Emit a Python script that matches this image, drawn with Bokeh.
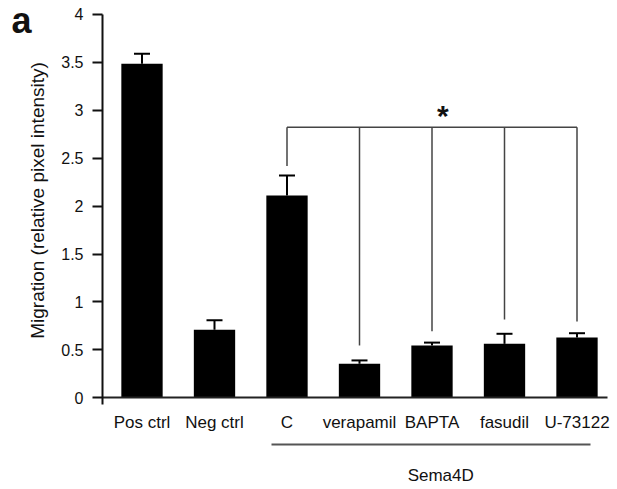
import math
from bokeh.plotting import figure
from bokeh.models import (ColumnDataSource, LinearAxis, FixedTicker, Range1d,
                          Whisker, TeeHead)
from bokeh.core.properties import value
from bokeh.embed import file_html
from bokeh.resources import INLINE

# ---- data ----
categories = ["Pos ctrl", "Neg ctrl", "C", "verapamil", "BAPTA", "fasudil", "U-73122"]
means = [3.485, 0.71, 2.11, 0.355, 0.546, 0.563, 0.629]
errors = [0.105, 0.10, 0.21, 0.035, 0.03, 0.105, 0.045]

y_ticks = [0, 0.5, 1, 1.5, 2, 2.5, 3, 3.5, 4]
y_tick_labels = ["0", "0.5", "1", "1.5", "2", "2.5", "3", "3.5", "4"]
y_label = "Migration (relative pixel intensity)"

# significance bracket: C vs each inhibitor
bracket_idx = [2, 3, 4, 5, 6]
bracket_level = 2.824
bracket_bottoms = [2.42, 0.546, 0.695, 0.817, 0.796]
star_text = "*"
group_label = "Sema4D"
group_span = (1.79, 6.19)
group_center = 4.12
panel_letter = "a"

FONT = "Liberation Sans"
INK = "#111111"
xs = list(range(len(categories)))

# frame covers the whole canvas; axes are pinned at data locations
X0, X1 = -1.9517, 6.5586
Y0, Y1 = -0.9569, 4.1459
YAXIS_X = -0.5448        # where the value axis stands
XAXIS_END = 6.42
GROUP_Y = -0.49

p = figure(width=617, height=489, output_backend="svg", toolbar_location=None,
           x_axis_location=None, y_axis_location=None,
           x_range=Range1d(X0, X1), y_range=Range1d(Y0, Y1),
           min_border_left=0, min_border_right=0, min_border_top=0,
           min_border_bottom=0, outline_line_color=None,
           background_fill_color="white", border_fill_color="white")
p.xgrid.visible = False
p.ygrid.visible = False

# value (y) axis
yax = LinearAxis(ticker=FixedTicker(ticks=y_ticks), bounds=(-0.07, 4.0),
                 fixed_location=YAXIS_X,
                 major_label_overrides={t: l for t, l in zip(y_ticks, y_tick_labels)})
yax.axis_line_width = 2
yax.axis_line_color = INK
yax.major_tick_line_width = 2
yax.major_tick_line_color = INK
yax.major_tick_out = 10
yax.major_tick_in = 0
yax.minor_tick_line_color = None
yax.major_label_standoff = 9
yax.major_label_text_font = FONT
yax.major_label_text_font_size = "16px"
yax.major_label_text_color = INK
p.add_layout(yax, "left")

# category (x) axis at y = 0
xax = LinearAxis(ticker=FixedTicker(ticks=xs), bounds=(YAXIS_X, XAXIS_END),
                 fixed_location=0,
                 major_label_overrides={i: c for i, c in zip(xs, categories)})
xax.axis_line_width = 2
xax.axis_line_color = "#222222"
xax.major_tick_line_color = None
xax.major_tick_out = 0
xax.major_tick_in = 0
xax.minor_tick_line_color = None
xax.major_label_standoff = 15
xax.major_label_text_font = FONT
xax.major_label_text_font_size = "17px"
xax.major_label_text_color = INK
p.add_layout(xax, "below")

# group axis: line under the Sema4D-treated conditions
gax = LinearAxis(ticker=FixedTicker(ticks=[group_center]), bounds=group_span,
                 fixed_location=GROUP_Y,
                 major_label_overrides={group_center: group_label})
gax.axis_line_width = 2
gax.axis_line_color = "#555555"
gax.major_tick_line_color = None
gax.major_tick_out = 0
gax.major_tick_in = 0
gax.minor_tick_line_color = None
gax.major_label_standoff = 21
gax.major_label_text_font = FONT
gax.major_label_text_font_size = "17px"
gax.major_label_text_color = INK
p.add_layout(gax, "below")

# bars
src = ColumnDataSource(dict(x=xs, mean=means,
                            upper=[m + e for m, e in zip(means, errors)]))
p.vbar(x="x", top="mean", bottom=0, width=0.57, source=src,
       fill_color="black", line_color=None)

# error bars (upper only)
p.add_layout(Whisker(base="x", upper="upper", lower="mean", source=src,
                     upper_head=TeeHead(size=16, line_width=2, line_color="black"),
                     lower_head=None, line_width=2, line_color="black"))

# significance bracket
bx = [xs[i] for i in bracket_idx]
p.segment(x0=[bx[0]], y0=[bracket_level], x1=[bx[-1]], y1=[bracket_level],
          line_width=1.5, line_color="#444444")
p.segment(x0=bx, y0=[bracket_level] * len(bx), x1=bx, y1=bracket_bottoms,
          line_width=1.5, line_color="#444444")
p.text(x=[4.15], y=[2.945], text=[star_text], text_align="center",
       text_baseline="alphabetic", text_font=value(FONT), text_font_size="30px",
       text_font_style="bold", text_color=INK)

# axis title (rotated), centred on the 0-4 span
p.text(x=[-1.441], y=[2.059], text=[y_label], angle=math.pi / 2,
       text_align="center", text_baseline="middle", text_font=value(FONT),
       text_font_size="19px", text_color=INK)

# panel letter
p.text(x=[-1.80], y=[3.937], text=[panel_letter], text_align="left",
       text_baseline="alphabetic", text_font=value(FONT), text_font_size="36px",
       text_font_style="bold", text_color=INK)

open("out.html", "w").write(file_html(p, INLINE))
